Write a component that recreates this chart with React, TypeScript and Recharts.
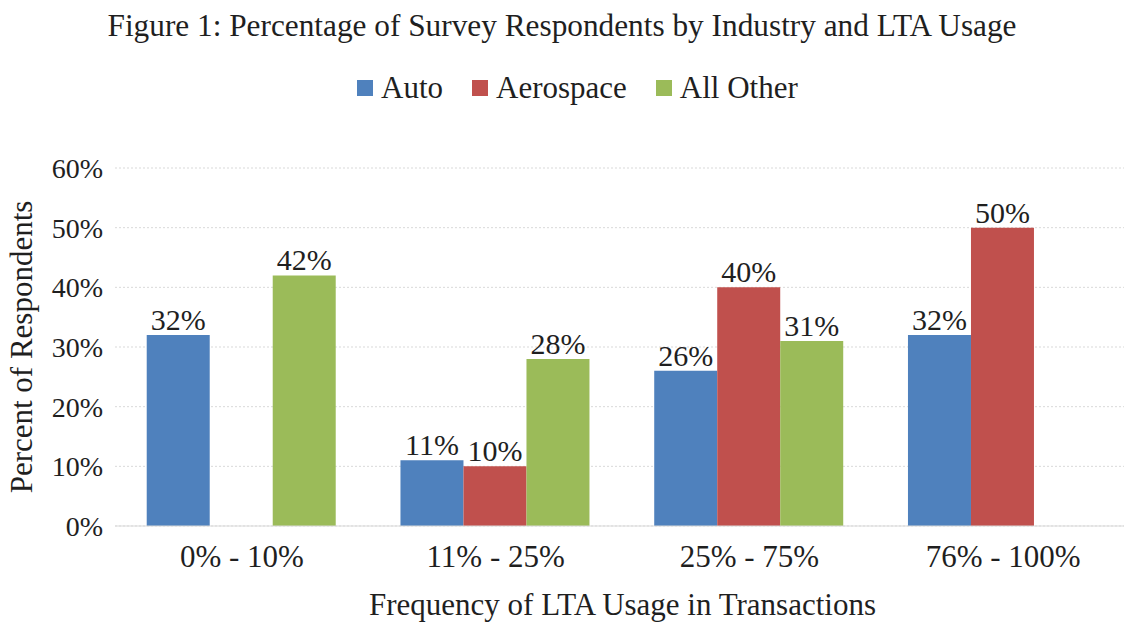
import React from 'react';
import { BarChart, Bar, XAxis, YAxis, CartesianGrid, LabelList, Label } from 'recharts';

const categories = ['0% - 10%', '11% - 25%', '25% - 75%', '76% - 100%'];
const autoValues = [32, 11, 26, 32];
const aerospaceValues = [0, 10, 40, 50];
const allOtherValues = [42, 28, 31, 0];
const yTicks = [0, 10, 20, 30, 40, 50, 60];

const seriesNames = ['Auto', 'Aerospace', 'All Other'];
const seriesColors = ['#4F81BD', '#C0504D', '#9BBB59'];

const data = categories.map((c, i) => ({
  category: c,
  auto: autoValues[i],
  aerospace: aerospaceValues[i],
  allOther: allOtherValues[i],
}));

const FONT = '"Liberation Serif", "Times New Roman", serif';
const TEXT = '#1f1f1f';

const fmt = (v: any) => (v ? `${v}%` : '');

const LegendBlock = () => (
  <div
    style={{
      position: 'absolute',
      top: 72,
      left: 357,
      display: 'flex',
      alignItems: 'center',
      fontFamily: FONT,
      fontSize: 31,
      color: TEXT,
    }}
  >
    {seriesNames.map((n, i) => (
      <div key={n} style={{ display: 'flex', alignItems: 'center', marginRight: i < 2 ? 29 : 0 }}>
        <div style={{ width: 16, height: 16, background: seriesColors[i], marginRight: 8 }} />
        <span style={{ lineHeight: '32px' }}>{n}</span>
      </div>
    ))}
  </div>
);

export default function App() {
  return (
    <div style={{ position: 'absolute', left: 0, top: 0, width: 1124, height: 623, overflow: 'hidden', background: '#fff' }}>
      <BarChart
        width={1130}
        height={623}
        data={data}
        margin={{ top: 168, right: 0, bottom: 0, left: 0 }}
        barCategoryGap="12.5%"
        barGap={0}
        style={{ fontFamily: FONT }}
      >
        <CartesianGrid vertical={false} stroke="#d9d9d9" strokeDasharray="2 2" />
        <XAxis
          dataKey="category"
          height={97}
          tickLine={false}
          axisLine={{ stroke: '#d9d9d9' }}
          tickMargin={13}
          tick={{ fill: TEXT, fontSize: 31, fontFamily: FONT }}
        >
          <Label
            content={(props: any) => {
              const vb = props.viewBox;
              return (
                <text x={vb.x + vb.width / 2} y={615} textAnchor="middle" fontFamily={FONT} fontSize={31} fill={TEXT}>
                  Frequency of LTA Usage in Transactions
                </text>
              );
            }}
          />
        </XAxis>
        <YAxis
          width={115}
          domain={[0, 60]}
          ticks={yTicks}
          interval={0}
          tickFormatter={(v: number) => `${v}%`}
          tickLine={false}
          axisLine={false}
          tickMargin={6}
          tick={{ fill: TEXT, fontSize: 28, fontFamily: FONT }}
        >
          <Label
            content={(props: any) => {
              const vb = props.viewBox;
              const cy = vb.y + vb.height / 2;
              return (
                <text
                  x={32}
                  y={cy}
                  transform={`rotate(-90, 32, ${cy})`}
                  textAnchor="middle"
                  fontFamily={FONT}
                  fontSize={31}
                  fill={TEXT}
                >
                  Percent of Respondents
                </text>
              );
            }}
          />
        </YAxis>
        <Bar dataKey="auto" name="Auto" fill={seriesColors[0]} isAnimationActive={false}>
          <LabelList dataKey="auto" position="top" offset={5} formatter={fmt} style={{ fill: TEXT, fontSize: 30, fontFamily: FONT }} />
        </Bar>
        <Bar dataKey="aerospace" name="Aerospace" fill={seriesColors[1]} isAnimationActive={false}>
          <LabelList dataKey="aerospace" position="top" offset={5} formatter={fmt} style={{ fill: TEXT, fontSize: 30, fontFamily: FONT }} />
        </Bar>
        <Bar dataKey="allOther" name="All Other" fill={seriesColors[2]} isAnimationActive={false}>
          <LabelList dataKey="allOther" position="top" offset={5} formatter={fmt} style={{ fill: TEXT, fontSize: 30, fontFamily: FONT }} />
        </Bar>
      </BarChart>
      <svg width={1124} height={60} style={{ position: 'absolute', left: 0, top: 0 }}>
        <text x={562} y={36} textAnchor="middle" fontFamily={FONT} fontSize={31.3} fill={TEXT}>
          Figure 1: Percentage of Survey Respondents by Industry and LTA Usage
        </text>
      </svg>
      <LegendBlock />
    </div>
  );
}
